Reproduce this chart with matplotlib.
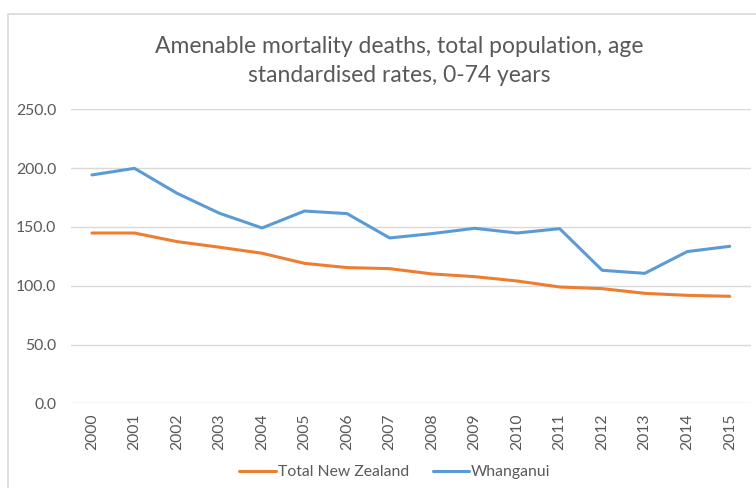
import matplotlib
matplotlib.use("Agg")
import matplotlib.pyplot as plt
from matplotlib.patches import Rectangle

years = ["2000", "2001", "2002", "2003", "2004", "2005", "2006", "2007",
         "2008", "2009", "2010", "2011", "2012", "2013", "2014", "2015"]
total_nz = [144.8, 144.8, 137.5, 132.7, 127.6, 119.0, 115.4, 114.5,
            110.0, 107.7, 104.0, 98.9, 97.5, 93.5, 91.8, 91.0]
whanganui = [194.2, 199.8, 178.6, 161.6, 149.1, 163.5, 161.3, 140.6,
             144.3, 148.8, 144.8, 148.5, 113.1, 110.5, 129.0, 133.5]
yticks = [0, 50, 100, 150, 200, 250]
title = "Amenable mortality deaths, total population, age\nstandardised rates, 0-74 years"

plt.rcParams['font.family'] = ['Lato', 'DejaVu Sans']
W, H = 756, 488
fig = plt.figure(figsize=(W / 100, H / 100), dpi=100)
fig.patch.set_facecolor("white")

# outer chart frame (cropped at right and bottom)
fig.patches.append(Rectangle((8 / W, -0.1), 1.2, 1 - 14 / H + 0.1,
                             transform=fig.transFigure, fill=False,
                             edgecolor="#d9d9d9", linewidth=1.2))

left, right = 70.7 / W, 751 / W
bottom, top = 1 - 403.3 / H, 1 - 109.3 / H
ax = fig.add_axes([left, bottom, right - left, top - bottom])

x = list(range(len(years)))
ax.plot(x, total_nz, color="#ED7D31", linewidth=2.2, label="Total New Zealand",
        solid_capstyle="round", solid_joinstyle="round")
ax.plot(x, whanganui, color="#5B9BD5", linewidth=2.2, label="Whanganui",
        solid_capstyle="round", solid_joinstyle="round")

ax.set_xlim(-0.5, len(years) - 0.5)
ax.set_ylim(0, 250)
ax.set_yticks(yticks)
ax.set_yticklabels([f"{v:.1f}" for v in yticks])
ax.set_xticks(x)
ax.set_xticklabels(years, rotation=90)
ax.grid(axis="y", color="#d9d9d9", linewidth=1.0)
ax.set_axisbelow(True)
for s in ax.spines.values():
    s.set_visible(False)
ax.tick_params(axis="both", length=0, colors="#595959", labelsize=11.3)
ax.tick_params(axis="y", pad=10.5)
ax.tick_params(axis="x", pad=7)

fig.text(399 / W, 1 - 36 / H, title, ha="center", va="top", fontsize=16.5,
         color="#595959", linespacing=1.45)

leg = fig.legend(loc="center", bbox_to_anchor=(395 / W, 1 - 472 / H), ncol=2,
                 frameon=False, fontsize=11.3, handlelength=2.3,
                 handletextpad=0.15, columnspacing=1.5)
for t in leg.get_texts():
    t.set_color("#595959")

fig.savefig("out.png", dpi=100)
